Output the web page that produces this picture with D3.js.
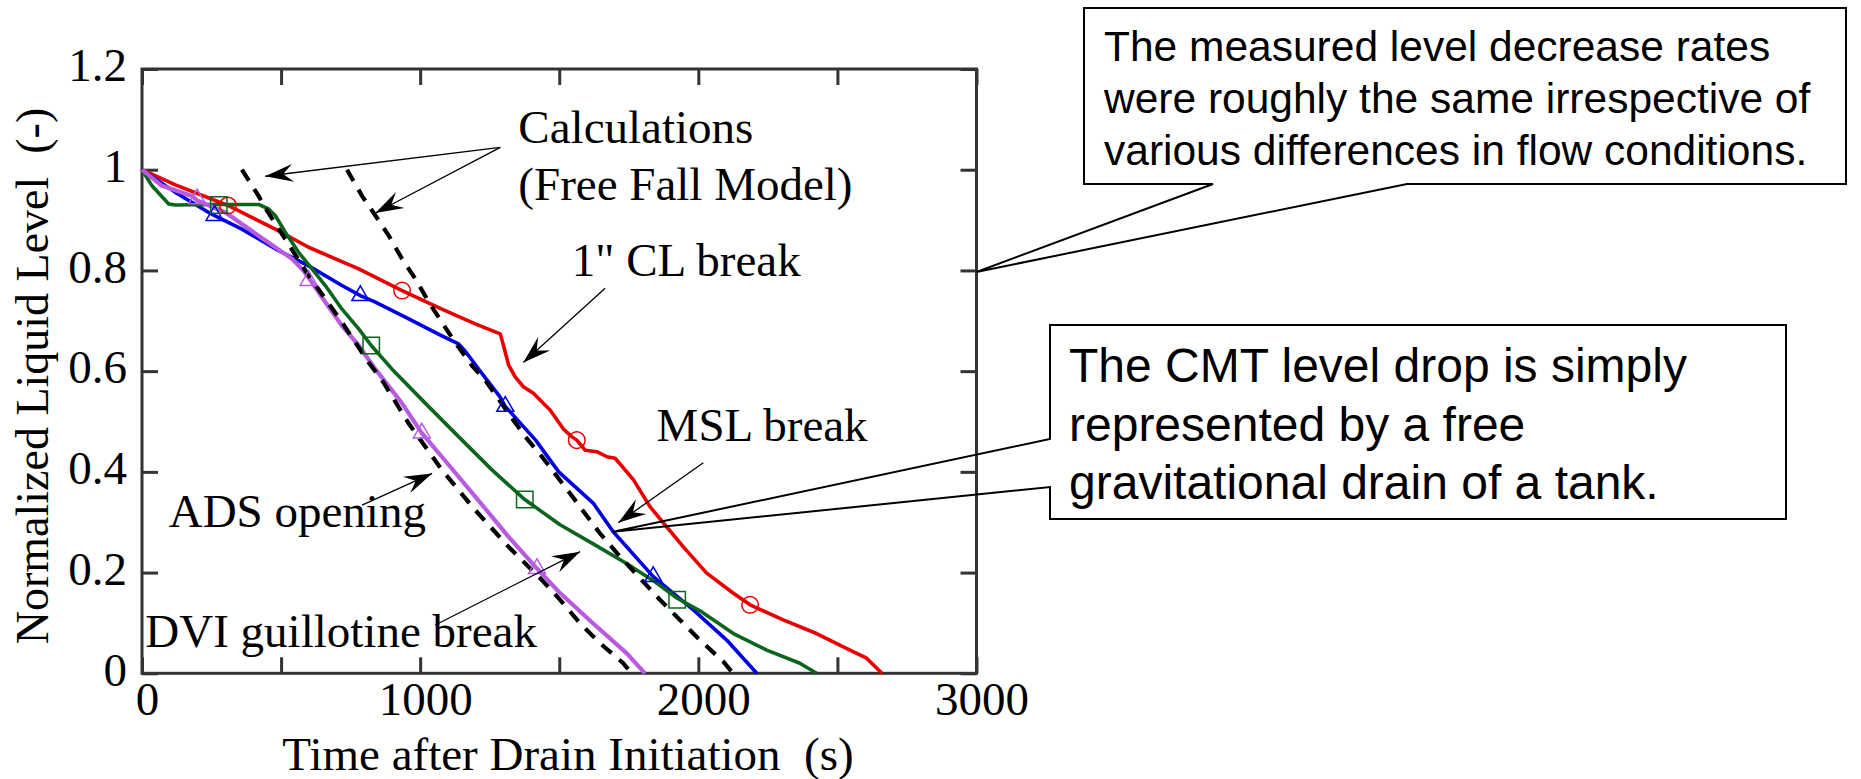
<!DOCTYPE html>
<html>
<head>
<meta charset="utf-8">
<script src="https://cdn.jsdelivr.net/npm/d3@7"></script>
<style>
  body { margin: 0; background: #fff; }
  svg { display: block; }
  .serif { font-family: "Liberation Serif", "Times New Roman", Times, serif; }
  .sans  { font-family: "Liberation Sans", Arial, Helvetica, sans-serif; }
</style>
</head>
<body>
<div id="chart"></div>
<script>
// axis ticks
const xTicks = [0, 500, 1000, 1500, 2000, 2500, 3000];
const xTickLabels = ["0", "", "1000", "", "2000", "", "3000"];
const yTicks = [0, 0.2, 0.4, 0.6, 0.8, 1.0, 1.2];
const yTickLabels = ["0", "0.2", "0.4", "0.6", "0.8", "1", "1.2"];

// measured levels, [time (s), normalized level]
const clBreak = [[0,1.0],[120,0.97],[309,0.929],[479,0.882],[599,0.846],[779,0.803],[935,0.760],
  [1078,0.723],[1198,0.694],[1288,0.674],[1300,0.650],[1318,0.612],[1341,0.589],[1371,0.569],
  [1407,0.556],[1467,0.523],[1515,0.485],[1545,0.470],[1563,0.463],[1593,0.443],[1635,0.440],
  [1671,0.430],[1701,0.427],[1767,0.384],[1826,0.331],[1886,0.291],[1946,0.251],[2030,0.199],
  [2126,0.159],[2186,0.136],[2305,0.106],[2425,0.079],[2545,0.046],[2605,0.030],[2660,0.0]];
const clBreakMarks = [[309,0.929],[935,0.760],[1563,0.463],[2186,0.136]];

const mslBreak = [[0,1.0],[120,0.955],[240,0.915],[261,0.909],[359,0.882],[479,0.843],[599,0.809],
  [719,0.770],[785,0.750],[839,0.737],[959,0.704],[1078,0.670],[1138,0.654],[1158,0.642],
  [1174,0.631],[1210,0.604],[1287,0.549],[1306,0.530],[1415,0.463],[1498,0.400],[1622,0.338],
  [1694,0.281],[1838,0.192],[1982,0.126],[2102,0.066],[2210,0.0]];
const mslBreakMarks = [[261,0.909],[785,0.750],[1306,0.530],[1838,0.192]];

const dviBreak = [[0,1.0],[36,0.968],[96,0.932],[120,0.930],[250,0.931],[419,0.931],[455,0.922],
  [479,0.909],[515,0.876],[563,0.836],[611,0.803],[659,0.770],[719,0.723],[779,0.684],[824,0.651],
  [899,0.604],[1019,0.536],[1138,0.470],[1258,0.404],[1376,0.345],[1503,0.295],[1622,0.257],
  [1742,0.218],[1838,0.184],[1924,0.149],[2006,0.124],[2126,0.079],[2246,0.046],[2365,0.020],
  [2425,0.0]];
const dviBreakMarks = [[276,0.930],[824,0.651],[1376,0.345],[1924,0.146]];

const adsOpening = [[0,1.0],[72,0.968],[180,0.948],[198,0.939],[300,0.915],[419,0.869],[539,0.823],
  [575,0.803],[599,0.786],[659,0.737],[719,0.690],[779,0.651],[839,0.604],[935,0.536],[1006,0.477],
  [1078,0.430],[1198,0.351],[1318,0.271],[1420,0.208],[1498,0.162],[1622,0.099],[1742,0.040],
  [1808,0.0]];
const adsOpeningMarks = [[198,0.942],[599,0.780],[1006,0.477],[1420,0.208]];

// free fall model calculations
const calcAds = [[359,1.0],[419,0.948],[440,0.927],[515,0.862],[599,0.790],[719,0.697],[815,0.617],
  [863,0.582],[959,0.496],[1078,0.404],[1198,0.324],[1318,0.251],[1438,0.185],[1503,0.146],
  [1575,0.099],[1646,0.060],[1730,0.020],[1760,0.0]];
const calcMsl = [[737,1.0],[791,0.948],[839,0.909],[887,0.869],[935,0.823],[983,0.783],[1031,0.737],
  [1078,0.697],[1126,0.657],[1186,0.611],[1234,0.582],[1318,0.516],[1378,0.470],[1438,0.430],
  [1539,0.357],[1646,0.278],[1718,0.232],[1790,0.189],[1862,0.146],[1934,0.106],[2006,0.066],
  [2090,0.023],[2125,0.0]];

// annotations in data units
const labels = [
  ["Calculations", 1353, 1.053],
  ["(Free Fall Model)", 1353, 0.940],
  ['1" CL break', 1545, 0.7895],
  ["MSL break", 1850, 0.462],
  ["ADS opening", 96, 0.291],
  ["DVI guillotine break", 12, 0.053]
];
const arrows = [
  [[1288,1.0445],[443,0.987]],
  [[1288,1.0445],[839,0.914]],
  [[1665,0.7645],[1371,0.617]],
  [[2018,0.418],[1712,0.299]],
  [[791,0.334],[1043,0.397]],
  [[1054,0.096],[1575,0.2415]]
];

const note1 = ["The measured level decrease rates",
               "were roughly the same irrespective of",
               "various differences in flow conditions."];
const note2 = ["The CMT level drop is simply",
               "represented by a free",
               "gravitational drain of a tank."];

const W = 1861, H = 779;
const plot = { left: 142, right: 976.5, top: 69, bottom: 673.3 };

const svg = d3.select("#chart")
  .append("svg")
  .attr("width", W)
  .attr("height", H);

const x = d3.scaleLinear().domain([0, 3000]).range([plot.left, plot.right]);
const y = d3.scaleLinear().domain([0, 1.2]).range([plot.bottom, plot.top]);

svg.append("defs").append("marker")
  .attr("id", "arrow")
  .attr("viewBox", "-30 -12 32 24")
  .attr("markerUnits", "userSpaceOnUse")
  .attr("markerWidth", 32).attr("markerHeight", 24)
  .attr("refX", 0).attr("refY", 0)
  .attr("orient", "auto")
  .append("path")
  .attr("d", "M0,0L-28,-9L-18,0L-28,9Z")
  .attr("fill", "#000");

const axisColor = "#333";
const tickFont = 47;

function styleAxis(g) {
  g.select(".domain").remove();
  g.selectAll(".tick line").attr("stroke", axisColor).attr("stroke-width", 3);
  g.selectAll("text")
    .attr("class", "serif")
    .attr("font-size", tickFont)
    .attr("fill", "#000");
  g.attr("font-family", null).attr("font-size", null);
}

svg.append("g")
  .attr("transform", `translate(0,${plot.bottom})`)
  .call(d3.axisBottom(x).tickValues(xTicks).tickSize(-16).tickPadding(8)
    .tickFormat((d, i) => xTickLabels[i]))
  .call(styleAxis)
  .selectAll("text").attr("dx", 5);

svg.append("g")
  .attr("transform", `translate(0,${plot.top})`)
  .call(d3.axisTop(x).tickValues(xTicks).tickSize(-16).tickFormat(""))
  .call(styleAxis);

svg.append("g")
  .attr("transform", `translate(${plot.left},0)`)
  .call(d3.axisLeft(y).tickValues(yTicks).tickSize(-16).tickPadding(15)
    .tickFormat((d, i) => yTickLabels[i]))
  .call(styleAxis)
  .selectAll("text").attr("dy", "0.25em");

svg.append("g")
  .attr("transform", `translate(${plot.right},0)`)
  .call(d3.axisRight(y).tickValues(yTicks).tickSize(-16).tickFormat(""))
  .call(styleAxis);

svg.append("rect")
  .attr("x", plot.left).attr("y", plot.top)
  .attr("width", plot.right - plot.left)
  .attr("height", plot.bottom - plot.top)
  .attr("fill", "none")
  .attr("stroke", axisColor)
  .attr("stroke-width", 3);

// axis titles
svg.append("text")
  .attr("class", "serif")
  .attr("x", 568).attr("y", 769.5)
  .attr("text-anchor", "middle")
  .attr("font-size", 47)
  .text("Time after Drain Initiation\u00a0 (s)");

svg.append("text")
  .attr("class", "serif")
  .attr("transform", "translate(48,376) rotate(-90)")
  .attr("text-anchor", "middle")
  .attr("font-size", 46)
  .text("Normalized Liquid Level\u00a0 (-)");

const line = d3.line().x(d => x(d[0])).y(d => y(d[1]));

const series = [
  { data: clBreak,    marks: clBreakMarks,    color: "#e80000", symbol: d3.symbolCircle,   size: 215, width: 3.6 },
  { data: mslBreak,   marks: mslBreakMarks,   color: "#0000e0", symbol: d3.symbolTriangle, size: 125, width: 3.6 },
  { data: dviBreak,   marks: dviBreakMarks,   color: "#0c651c", symbol: d3.symbolSquare,   size: 270, width: 3.6 },
  { data: adsOpening, marks: adsOpeningMarks, color: "#b85be0", symbol: d3.symbolTriangle, size: 125, width: 4.2 }
];

svg.append("g")
  .selectAll("path")
  .data(series)
  .join("path")
  .attr("d", d => line(d.data))
  .attr("fill", "none")
  .attr("stroke", d => d.color)
  .attr("stroke-width", d => d.width)
  .attr("stroke-linejoin", "round");

svg.append("g")
  .selectAll("path")
  .data([calcAds, calcMsl])
  .join("path")
  .attr("d", line)
  .attr("fill", "none")
  .attr("stroke", "#000")
  .attr("stroke-width", 4.2)
  .attr("stroke-dasharray", "13,10");

series.forEach(s => {
  svg.append("g")
    .selectAll("path")
    .data(s.marks)
    .join("path")
    .attr("transform", d => `translate(${x(d[0])},${y(d[1])})`)
    .attr("d", d3.symbol(s.symbol, s.size))
    .attr("fill", "none")
    .attr("stroke", s.color)
    .attr("stroke-width", 1.5);
});

// annotations
svg.append("g")
  .selectAll("text")
  .data(labels)
  .join("text")
  .attr("class", "serif")
  .attr("x", d => x(d[1]))
  .attr("y", d => y(d[2]))
  .attr("font-size", 47)
  .text(d => d[0]);

svg.append("g")
  .selectAll("line")
  .data(arrows)
  .join("line")
  .attr("x1", d => x(d[0][0])).attr("y1", d => y(d[0][1]))
  .attr("x2", d => x(d[1][0])).attr("y2", d => y(d[1][1]))
  .attr("stroke", "#000")
  .attr("stroke-width", 1.3)
  .attr("marker-end", "url(#arrow)");

// callout boxes
const tip1 = [x(3000), y(0.797)];
const tip2 = [x(1694), y(0.281)];

const box1 = [[1084, 8], [1846, 8], [1846, 184], [1407, 184], tip1, [1213, 184], [1084, 184]];
const box2 = [[1050, 325], [1786, 325], [1786, 519], [1050, 519], [1050, 487], tip2, [1050, 439]];

svg.append("g")
  .selectAll("path")
  .data([box1, box2])
  .join("path")
  .attr("d", d => "M" + d.join("L") + "Z")
  .attr("fill", "none")
  .attr("stroke", "#000")
  .attr("stroke-width", 2);

svg.append("g")
  .selectAll("text")
  .data(note1)
  .join("text")
  .attr("class", "sans")
  .attr("x", 1104)
  .attr("y", (d, i) => 60.5 + i * 52)
  .attr("font-size", 42.5)
  .text(d => d);

svg.append("g")
  .selectAll("text")
  .data(note2)
  .join("text")
  .attr("class", "sans")
  .attr("x", 1069)
  .attr("y", (d, i) => 382 + i * 58.5)
  .attr("font-size", 48)
  .text(d => d);
</script>
</body>
</html>
